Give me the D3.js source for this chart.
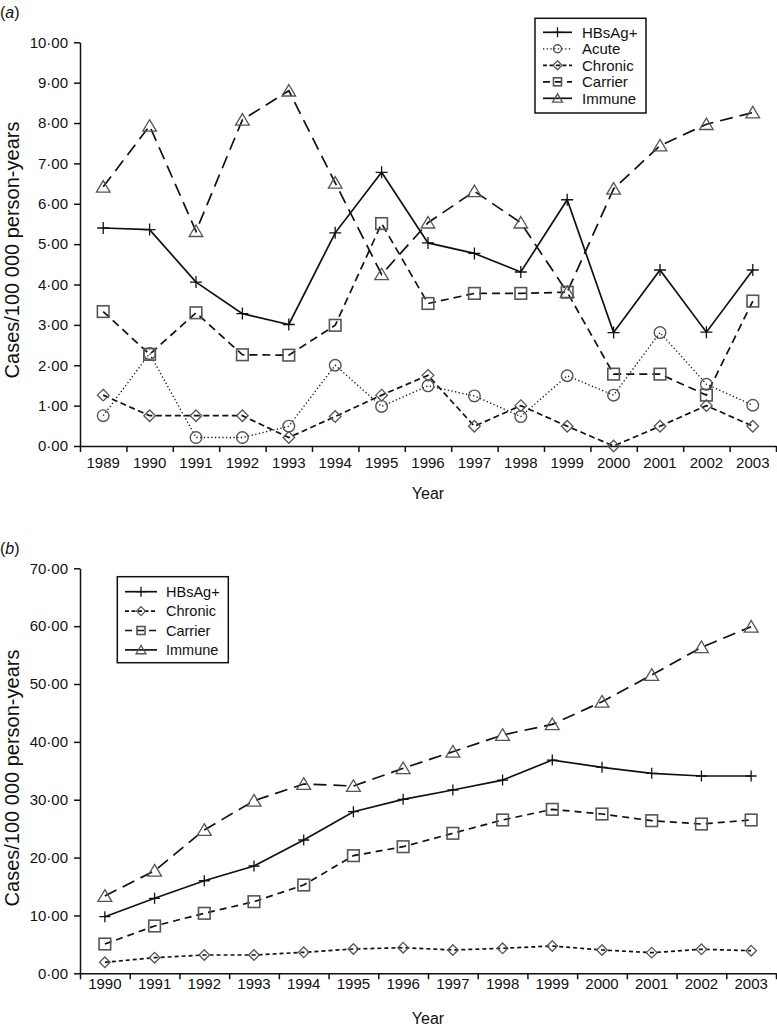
<!DOCTYPE html>
<html><head><meta charset="utf-8">
<script src="https://cdn.jsdelivr.net/npm/d3@7"></script>
<style>
html,body{margin:0;padding:0;background:#fff;}
svg text{fill:#111;}
</style></head>
<body>
<svg id="chart" width="777" height="1028"></svg>
<script>
// ---- Panel (a) data ----
const yearsA = ["1989","1990","1991","1992","1993","1994","1995","1996","1997","1998","1999","2000","2001","2002","2003"];
const hbsagA   = [5.40,5.36,4.06,3.28,3.01,5.28,6.78,5.03,4.77,4.31,6.10,2.81,4.36,2.82,4.36];
const acuteA   = [0.75,2.29,0.21,0.21,0.49,2.00,0.98,1.49,1.24,0.73,1.74,1.26,2.81,1.53,1.01];
const chronicA = [1.26,0.75,0.75,0.75,0.21,0.73,1.26,1.75,0.49,1.00,0.49,0.00,0.49,1.00,0.49];
const carrierA = [3.33,2.27,3.30,2.26,2.25,2.99,5.51,3.53,3.78,3.78,3.81,1.78,1.78,1.26,3.59];
const immuneA  = [6.42,7.93,5.32,8.08,8.80,6.52,4.25,5.53,6.31,5.53,3.81,6.37,7.44,7.97,8.26];
const yTicksA = [0,1,2,3,4,5,6,7,8,9,10];

// ---- Panel (b) data ----
const yearsB = ["1990","1991","1992","1993","1994","1995","1996","1997","1998","1999","2000","2001","2002","2003"];
const hbsagB   = [9.78,12.96,16.0,18.55,23.04,27.93,30.07,31.68,33.4,36.86,35.6,34.56,34.1,34.1];
const chronicB = [1.9,2.7,3.16,3.16,3.63,4.2,4.43,4.03,4.32,4.72,4.03,3.57,4.15,3.91];
const carrierB = [5.06,8.18,10.37,12.38,15.26,20.33,21.88,24.2,26.5,28.34,27.53,26.38,25.8,26.5];
const immuneB  = [13.36,17.73,24.77,29.83,32.72,32.37,35.43,38.3,41.19,43.03,46.94,51.56,56.34,59.9];
const yTicksB = [0,10,20,30,40,50,60,70];

// font detection: prefer a narrow sans if installed
const cv = document.createElement("canvas").getContext("2d");
function w(f) { cv.font = f; return cv.measureText("1989 HBsAg+ Carrier").width; }
const hasNarrow = w("20px 'Liberation Sans Narrow', monospace") !== w("20px monospace");
const SANS = "'Liberation Sans', Arial, Helvetica, sans-serif";
const LBL = hasNarrow ? "'Liberation Sans Narrow', " + SANS : SANS;
const FS = hasNarrow ? {tick: 18, year: 18, legA: 18, legB: 17} : {tick: 15, year: 16, legA: 15, legB: 14.5};

const fmt = v => d3.format(".2f")(v).replace(".", "\u00B7");
const svg = d3.select("#chart");
const MK = "#555";

function marker(g, type, x, y, s) {
  if (type === "plus") {
    g.append("path").attr("d", `M${x-s},${y}H${x+s}M${x},${y-s}V${y+s}`)
      .attr("stroke", "#111").attr("stroke-width", 1.3).attr("fill", "none");
  } else if (type === "circle") {
    g.append("circle").attr("cx", x).attr("cy", y).attr("r", s)
      .attr("stroke", MK).attr("stroke-width", 1.4).attr("fill", "none");
  } else if (type === "diamond") {
    g.append("path").attr("d", `M${x},${y-s}L${x+s},${y}L${x},${y+s}L${x-s},${y}Z`)
      .attr("stroke", MK).attr("stroke-width", 1.3).attr("fill", "none");
  } else if (type === "square") {
    g.append("rect").attr("x", x-s).attr("y", y-s).attr("width", 2*s).attr("height", 2*s)
      .attr("stroke", MK).attr("stroke-width", 1.6).attr("fill", "none");
  } else if (type === "triangle") {
    g.append("path").attr("d", `M${x},${y-s}L${x+s*1.1},${y+s*0.85}L${x-s*1.1},${y+s*0.85}Z`)
      .attr("stroke", MK).attr("stroke-width", 1.3).attr("fill", "none");
  }
}

function panel(opts) {
  const {years, series, yMax, yTicks, top, bottom, left, right, label, labelY,
         tickLabelGap, yearTitleY, yTitleCY, legend} = opts;
  const g = svg.append("g");
  const xLin = d3.scaleLinear().domain([0, years.length]).range([left, right]);
  const xBand = d3.scaleBand().domain(years).range([left, right]).padding(0);
  const y = d3.scaleLinear().domain([0, yMax]).range([bottom, top]);

  // x axis: ticks at category boundaries
  const xAx = g.append("g").attr("transform", `translate(0,${bottom})`)
    .call(d3.axisBottom(xLin).tickValues(d3.range(0, years.length + 1)).tickSize(6).tickSizeOuter(0).tickFormat(""));
  xAx.selectAll("path,line").attr("stroke", "#111").attr("stroke-width", 1.5);
  const xLab = g.append("g").attr("transform", `translate(0,${bottom})`)
    .call(d3.axisBottom(xBand).tickSize(0).tickPadding(tickLabelGap));
  xLab.select(".domain").remove();
  xLab.attr("font-family", LBL).attr("font-size", FS.tick);

  // y axis
  const yAx = g.append("g").attr("transform", `translate(${left},0)`)
    .call(d3.axisLeft(y).tickValues(yTicks).tickSize(6).tickSizeOuter(0).tickPadding(6).tickFormat(fmt));
  yAx.selectAll("path,line").attr("stroke", "#111").attr("stroke-width", 1.5);
  yAx.attr("font-family", LBL).attr("font-size", FS.tick);

  // titles
  g.append("text").attr("x", (left + right) / 2).attr("y", yearTitleY)
    .attr("text-anchor", "middle").attr("font-family", LBL).attr("font-size", FS.year).text("Year");
  g.append("text").attr("transform", `translate(19,${yTitleCY}) rotate(-90)`)
    .attr("text-anchor", "middle").attr("font-family", SANS).attr("font-size", 20).text("Cases/100 000 person-years");
  const lab = g.append("text").attr("x", 0).attr("y", labelY).attr("font-family", SANS).attr("font-size", 16);
  lab.append("tspan").text("(");
  lab.append("tspan").attr("font-style", "italic").text(label);
  lab.append("tspan").text(")");

  // lines
  const cx = i => xBand(years[i]) + xBand.bandwidth() / 2;
  series.forEach(s => {
    const line = d3.line().x((d, i) => cx(i)).y(d => y(d));
    g.append("path").datum(s.values).attr("d", line)
      .attr("fill", "none").attr("stroke", "#111").attr("stroke-width", s.w || 1.7)
      .attr("stroke-dasharray", s.dash || null);
  });
  series.forEach(s => {
    const mg = g.append("g");
    s.values.forEach((v, i) => marker(mg, s.marker, cx(i), y(v), s.size));
  });

  // legend
  const L = legend;
  const lg = g.append("g");
  lg.append("rect").attr("x", L.x0).attr("y", L.y0).attr("width", L.x1 - L.x0).attr("height", L.y1 - L.y0)
    .attr("fill", "#fff").attr("stroke", "#111").attr("stroke-width", 1.5);
  series.forEach((s, i) => {
    const yy = L.row0 + i * L.step;
    lg.append("line").attr("x1", L.sx0).attr("x2", L.sx1).attr("y1", yy).attr("y2", yy)
      .attr("stroke", "#111").attr("stroke-width", s.lw || 1.7).attr("stroke-dasharray", s.ldash || null);
    marker(lg, s.marker, (L.sx0 + L.sx1) / 2, yy, s.lsize);
    lg.append("text").attr("x", L.tx).attr("y", yy).attr("dy", "0.36em")
      .attr("font-family", LBL).attr("font-size", L.fs).text(s.name);
  });
}

panel({
  years: yearsA, yMax: 10, yTicks: yTicksA, top: 42.3, bottom: 446, left: 80, right: 776,
  label: "a", labelY: 18, tickLabelGap: hasNarrow ? 9 : 11, yearTitleY: 499, yTitleCY: 250,
  series: [
    {name: "HBsAg+", values: hbsagA, marker: "plus", size: 6, lsize: 5},
    {name: "Acute", values: acuteA, marker: "circle", size: 5.8, lsize: 4, dash: "1.3,2.4", w: 1.3, ldash: "1.3,2.4", lw: 1.3},
    {name: "Chronic", values: chronicA, marker: "diamond", size: 5.8, lsize: 4.5, dash: "6,3.5", ldash: "4,2.5"},
    {name: "Carrier", values: carrierA, marker: "square", size: 5.8, lsize: 4, dash: "8,5", ldash: "7,5"},
    {name: "Immune", values: immuneA, marker: "triangle", size: 6.2, lsize: 4.5, dash: "13,7"}
  ],
  legend: {x0: 535, y0: 18.3, x1: 646, y1: 113, row0: 32.3, step: 16.5, sx0: 543, sx1: 572, tx: 582, fs: FS.legA}
});

panel({
  years: yearsB, yMax: 70, yTicks: yTicksB, top: 568.3, bottom: 973.3, left: 80, right: 776,
  label: "b", labelY: 554, tickLabelGap: hasNarrow ? 4 : 5.5, yearTitleY: 1024, yTitleCY: 778,
  series: [
    {name: "HBsAg+", values: hbsagB, marker: "plus", size: 5.5, lsize: 5},
    {name: "Chronic", values: chronicB, marker: "diamond", size: 5.3, lsize: 4.5, dash: "4,3", ldash: "4,2.5"},
    {name: "Carrier", values: carrierB, marker: "square", size: 5.8, lsize: 4, dash: "7,5", ldash: "7,5"},
    {name: "Immune", values: immuneB, marker: "triangle", size: 6.3, lsize: 4.5, dash: "13,7"}
  ],
  legend: {x0: 117.3, y0: 576.7, x1: 228.3, y1: 662.7, row0: 591.7, step: 19.4, sx0: 125, sx1: 157, tx: 166, fs: FS.legB}
});
</script>
</body></html>
